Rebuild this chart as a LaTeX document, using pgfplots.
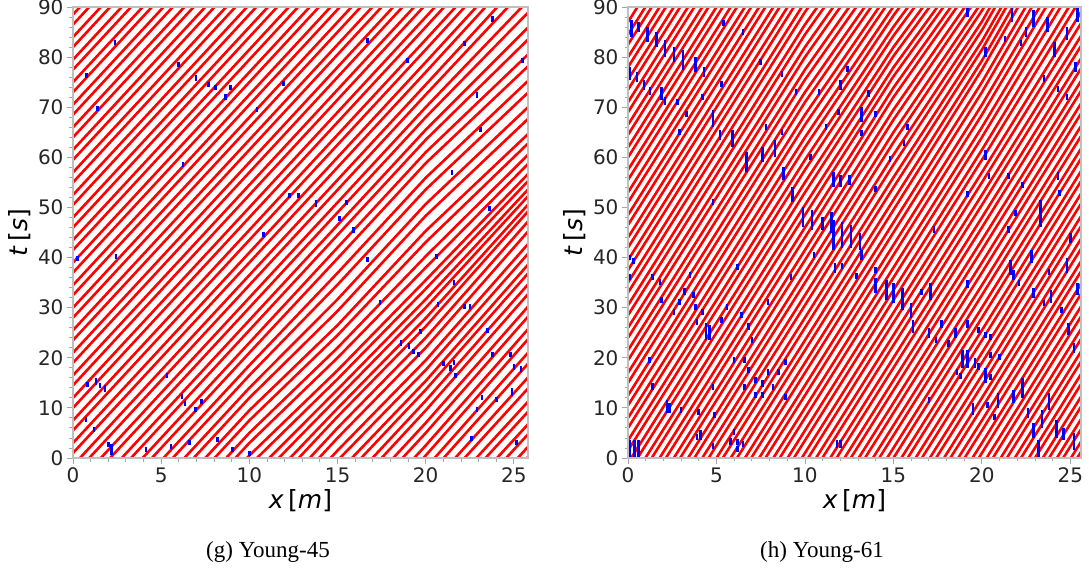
\documentclass[border=0pt]{standalone}
\usepackage{fontspec}
\setmainfont{DejaVu Sans}
\newfontfamily\capfont{Liberation Serif}
\usepackage{pgfplots}
\usepackage{pgfplotstable}
\pgfplotsset{compat=1.18}

% Left panel (Young-45) trajectories: x [m], t [s]; one trajectory per line, separated by nan
\pgfplotstableread[row sep=\\]{x y\\
0 88.5\\5 107.5\\nan nan\\
0 86.5\\5 105.5\\nan nan\\
0 84\\5 103\\nan nan\\
0 82\\5 101\\nan nan\\
0 79.5\\5 98.5\\nan nan\\
0 77.5\\5 96.5\\nan nan\\
0 75\\5 94\\nan nan\\
0 73\\5 92\\nan nan\\
0 70.5\\5 89.5\\10 108.5\\nan nan\\
0 68.5\\5 87.5\\10 106.5\\nan nan\\
0 66\\5 85\\10 104\\nan nan\\
0 64\\5 83\\10 102\\nan nan\\
0 61.5\\5 80.5\\10 99.5\\nan nan\\
0 59.5\\5 78.5\\10 97.5\\nan nan\\
0 57\\5 76\\10 95\\nan nan\\
0 55\\5 74\\10 93\\nan nan\\
0 52.5\\5 71.5\\10 90.5\\nan nan\\
0 50.5\\5 69.5\\10 88.5\\15 107.5\\nan nan\\
0 48\\5 67\\10 86\\15 105\\nan nan\\
0 46\\5 65\\10 84\\15 103\\nan nan\\
0 43.5\\5 62.5\\10 81.5\\15 100.5\\nan nan\\
0 41.5\\5 60.5\\10 79.5\\15 98.5\\nan nan\\
0 39\\5 58\\10 77\\15 96\\nan nan\\
0 37\\5 56\\10 75\\15 94\\nan nan\\
0 34.5\\5 53.5\\10 72.5\\15 91.5\\nan nan\\
0 32.5\\5 51.5\\10 70.5\\15 89.5\\20 108.5\\nan nan\\
0 30\\5 49\\10 68\\15 87\\20 106\\nan nan\\
0 28\\5 47\\10 66\\15 85\\20 104\\nan nan\\
0 25.5\\5 44.5\\10 63.5\\15 82.5\\20 101.5\\nan nan\\
0 23.5\\5 42.5\\10 61.5\\15 80.5\\20 99.5\\nan nan\\
0 21\\5 40\\10 59\\15 78\\20 97\\nan nan\\
0 19\\5 38\\10 57\\15 76\\20 95\\nan nan\\
0 16.5\\5 35.5\\10 54.5\\15 73.5\\20 92.5\\nan nan\\
0 14.5\\5 33.5\\10 52.5\\15 71.5\\20 90.5\\nan nan\\
0 12\\5 31\\10 50\\15 69\\20 88\\26 111\\nan nan\\
0 10\\5 29\\10 48\\15 67\\20 86\\26 109\\nan nan\\
0 7.5\\5 26.5\\10 45.5\\15 64.5\\20 83.5\\26 106.5\\nan nan\\
0 5.5\\5 24.5\\10 43.5\\15 62.5\\20 81.5\\26 104.5\\nan nan\\
0 3\\5 22\\10 41\\15 60\\20 79\\26 102\\nan nan\\
0 1\\5 20\\10 39\\15 58\\20 77\\26 100\\nan nan\\
0 -1.5\\5 17.5\\10 36.5\\15 55.5\\20 74.5\\26 97.4\\nan nan\\
0 -3.5\\5 15.5\\10 34.5\\15 53.5\\20 72.5\\26 95\\nan nan\\
0 -6\\5 13\\10 32\\15 51\\20 70\\26 92\\nan nan\\
0 -8\\5 11\\10 30\\15 49\\20 68\\26 89.6\\nan nan\\
0 -10.5\\5 8.5\\10 27.5\\15 46.5\\20 65.5\\26 86.6\\nan nan\\
0 -12.5\\5 6.5\\10 25.5\\15 44.5\\20 63.5\\26 84.2\\nan nan\\
0 -15\\5 4\\10 23\\15 42\\20 61\\26 81.2\\nan nan\\
0 -17\\5 2\\10 21\\15 39.83\\20 58.83\\26 78.83\\nan nan\\
0 -19.5\\5 -0.5\\10 18.5\\15 36.92\\20 55.92\\26 75.92\\nan nan\\
0 -21.5\\5 -2.5\\10 16.5\\15 34.58\\20 53.58\\26 73.58\\nan nan\\
0 -24\\5 -5\\10 14\\15 31.67\\20 50.67\\26 70.67\\nan nan\\
0 -26\\5 -7\\10 12\\15 29.33\\20 48.33\\26 68.33\\nan nan\\
0 -28.5\\5 -9.5\\10 9.5\\15 26.5\\20 45.31\\26 65.31\\nan nan\\
0 -30.5\\5 -11.5\\10 7.5\\15 24.5\\20 43.06\\26 63.45\\nan nan\\
0 -33\\5 -14\\10 5\\15 22\\20 40.25\\26 61.2\\nan nan\\
0 -35\\5 -16\\10 3\\15 20\\20 38\\26 59.4\\nan nan\\
0 -37.5\\5 -18.5\\10 0.5\\15 17.5\\20 35.5\\26 57.4\\nan nan\\
5 -20.5\\10 -1.5\\15 15.75\\20 33.75\\26 56\\nan nan\\
5 -23\\10 -4\\15 13.67\\20 31.67\\26 54.34\\nan nan\\
5 -25\\10 -6\\15 12\\20 30\\26 53\\nan nan\\
5 -27.5\\10 -8.5\\15 9.92\\20 27.92\\26 51.34\\nan nan\\
5 -29.5\\10 -10.5\\15 8.25\\20 26.25\\26 50\\nan nan\\
10 -13\\15 6\\20 24\\26 48\\nan nan\\
10 -15\\15 4\\20 22\\26 46\\nan nan\\
10 -17.5\\15 1.5\\20 19.5\\26 43.5\\nan nan\\
10 -19.5\\15 -0.5\\20 17.56\\26 41.56\\nan nan\\
15 -3\\20 15.38\\26 39.38\\nan nan\\
15 -5\\20 13.63\\26 37.63\\nan nan\\
15 -7.5\\20 11.44\\26 35.44\\nan nan\\
15 -9.5\\20 9.5\\26 33.5\\nan nan\\
15 -12\\20 7\\26 31\\nan nan\\
15 -14\\20 5\\26 29\\nan nan\\
15 -16.5\\20 2.5\\26 26.5\\nan nan\\
15 -18.5\\20 0.5\\26 24.5\\nan nan\\
20 -2\\26 21.8\\nan nan\\
20 -4\\26 19.6\\nan nan\\
20 -6.5\\26 16.85\\nan nan\\
20 -8.5\\26 14.65\\nan nan\\
20 -11\\26 12\\nan nan\\
20 -13\\26 10\\nan nan\\
20 -15.5\\26 7.5\\nan nan\\
20 -17.5\\26 5.5\\nan nan\\
20 -20\\26 3\\nan nan\\
20 -22\\26 1\\
}\RL

% Right panel (Young-61) trajectories
\pgfplotstableread[row sep=\\]{x y\\
0 87\\5 115\\nan nan\\
0 84.5\\5 112.5\\nan nan\\
0 82.5\\5 110.5\\nan nan\\
0 80\\5 108\\nan nan\\
0 78\\5 106\\nan nan\\
0 75.5\\5 103.5\\nan nan\\
0 73.5\\5 101.5\\nan nan\\
0 71\\5 99\\nan nan\\
0 69\\5 97\\nan nan\\
0 66.5\\5 94.5\\nan nan\\
0 64.5\\5 92.5\\nan nan\\
0 62\\5 90\\nan nan\\
0 60\\5 88\\10 116\\nan nan\\
0 57.5\\5 85.5\\10 113.5\\nan nan\\
0 55.5\\5 83.5\\10 111.5\\nan nan\\
0 53\\5 81\\10 109\\nan nan\\
0 51\\5 79\\10 107\\nan nan\\
0 48.5\\5 76.5\\10 104.5\\nan nan\\
0 46.5\\5 74.5\\10 102.5\\nan nan\\
0 44\\5 72\\10 100\\nan nan\\
0 42\\5 70\\10 98\\nan nan\\
0 39.5\\5 67.5\\10 95.5\\nan nan\\
0 37.5\\5 65.5\\10 93.5\\nan nan\\
0 35\\5 63\\10 91\\nan nan\\
0 33\\5 61\\10 89\\15 114\\nan nan\\
0 30.5\\5 58.5\\10 86.5\\15 111.5\\nan nan\\
0 28.5\\5 56.5\\10 84.5\\15 109.5\\nan nan\\
0 26\\5 54\\10 82\\15 107\\nan nan\\
0 24\\5 52\\10 80\\15 105\\nan nan\\
0 21.5\\5 49.5\\10 77.5\\15 102.5\\nan nan\\
0 19.5\\5 47.5\\10 75.5\\15 100.5\\nan nan\\
0 17\\5 45\\10 73\\15 98.2\\nan nan\\
0 15\\5 43\\10 71\\15 96.4\\nan nan\\
0 12.5\\5 40.5\\10 68.5\\15 94.15\\nan nan\\
0 10.5\\5 38.5\\10 66.5\\15 92.35\\nan nan\\
0 8\\5 36\\10 64\\15 90.1\\20 114.1\\nan nan\\
0 6\\5 34\\10 62\\15 88.3\\20 112.3\\nan nan\\
0 3.5\\5 31.5\\10 59.5\\15 86.05\\20 110.05\\nan nan\\
0 1.5\\5 29.5\\10 57.5\\15 84.25\\20 108.25\\nan nan\\
0 -1\\5 27\\10 55\\15 82\\20 106\\nan nan\\
0 -3\\5 25\\10 53\\15 80.2\\20 104.2\\nan nan\\
0 -5.5\\5 22.5\\10 50.5\\15 77.95\\20 102.23\\nan nan\\
0 -7.5\\5 20.5\\10 48.5\\15 76.15\\20 100.67\\nan nan\\
0 -10\\5 18\\10 46\\15 73.9\\20 98.72\\nan nan\\
0 -12\\5 16\\10 44\\15 72\\20 97.07\\nan nan\\
0 -14.5\\5 13.5\\10 41.5\\15 69.5\\20 94.9\\nan nan\\
0 -16.5\\5 11.5\\10 39.5\\15 67.5\\20 93.17\\nan nan\\
0 -19\\5 9\\10 37\\15 65\\20 91\\26 128\\nan nan\\
0 -21\\5 7\\10 35\\15 63\\20 89.27\\26 126.27\\nan nan\\
0 -23.5\\5 4.5\\10 32.5\\15 60.5\\20 87.1\\26 124.1\\nan nan\\
0 -25.5\\5 2.5\\10 30.5\\15 58.5\\20 85.37\\26 122.37\\nan nan\\
0 -28\\5 0\\10 28\\15 56\\20 83.2\\26 120.2\\nan nan\\
0 -30\\5 -2\\10 26\\15 54\\20 81.47\\26 118.47\\nan nan\\
0 -32.5\\5 -4.5\\10 23.5\\15 51.5\\20 79.3\\26 116.22\\nan nan\\
0 -34.5\\5 -6.5\\10 21.5\\15 49.5\\20 77.5\\26 114.2\\nan nan\\
0 -37\\5 -9\\10 19\\15 47\\20 75\\26 111.4\\nan nan\\
0 -39\\5 -11\\10 17\\15 45\\20 73\\26 109.16\\nan nan\\
0 -41.5\\5 -13.5\\10 14.5\\15 42.5\\20 70.5\\26 106.36\\nan nan\\
0 -43.5\\5 -15.5\\10 12.5\\15 40.5\\20 68.5\\26 104.12\\nan nan\\
0 -46\\5 -18\\10 10\\15 38\\20 66\\26 101.32\\nan nan\\
0 -48\\5 -20\\10 8\\15 36\\20 64\\26 99.08\\nan nan\\
0 -50.5\\5 -22.5\\10 5.5\\15 33.5\\20 61.5\\26 96.28\\nan nan\\
0 -52.5\\5 -24.5\\10 3.5\\15 31.5\\20 59.5\\26 94.04\\nan nan\\
0 -55\\5 -27\\10 1\\15 29\\20 57\\26 91.24\\nan nan\\
5 -29\\10 -1\\15 27\\20 55\\26 89\\nan nan\\
5 -31.5\\10 -3.5\\15 24.5\\20 52.5\\26 86.5\\nan nan\\
5 -33.5\\10 -5.5\\15 22.5\\20 50.5\\26 84.5\\nan nan\\
5 -36\\10 -8\\15 20\\20 48\\26 82\\nan nan\\
5 -38\\10 -10\\15 18\\20 46\\26 80\\nan nan\\
5 -40.5\\10 -12.5\\15 15.5\\20 43.5\\26 77.5\\nan nan\\
5 -42.5\\10 -14.5\\15 13.5\\20 41.5\\26 75.5\\nan nan\\
5 -45\\10 -17\\15 11\\20 39\\26 73\\nan nan\\
5 -47\\10 -19\\15 9\\20 37\\26 71\\nan nan\\
5 -49.5\\10 -21.5\\15 6.5\\20 34.5\\26 68.5\\nan nan\\
5 -51.5\\10 -23.5\\15 4.5\\20 32.5\\26 66.5\\nan nan\\
5 -54\\10 -26\\15 2\\20 30\\26 64\\nan nan\\
10 -28\\15 0\\20 28\\26 62\\nan nan\\
10 -30.5\\15 -2.5\\20 25.5\\26 59.5\\nan nan\\
10 -32.5\\15 -4.5\\20 23.5\\26 57.5\\nan nan\\
10 -35\\15 -7\\20 21\\26 55\\nan nan\\
10 -37\\15 -9\\20 19\\26 53\\nan nan\\
10 -39.5\\15 -11.5\\20 16.5\\26 50.5\\nan nan\\
10 -41.5\\15 -13.5\\20 14.5\\26 48.5\\nan nan\\
10 -44\\15 -16\\20 12\\26 46\\nan nan\\
10 -46\\15 -18\\20 10\\26 44\\nan nan\\
10 -48.5\\15 -20.5\\20 7.5\\26 41.5\\nan nan\\
10 -50.5\\15 -22.5\\20 5.5\\26 39.5\\nan nan\\
10 -53\\15 -25\\20 3\\26 37\\nan nan\\
10 -55\\15 -27\\20 1\\26 35\\nan nan\\
15 -29.5\\20 -1.5\\26 32.5\\nan nan\\
15 -31.5\\20 -3.5\\26 30.5\\nan nan\\
15 -34\\20 -6\\26 28\\nan nan\\
15 -36\\20 -8\\26 26\\nan nan\\
15 -38.5\\20 -10.5\\26 23.5\\nan nan\\
15 -40.5\\20 -12.5\\26 21.5\\nan nan\\
15 -43\\20 -15\\26 19\\nan nan\\
15 -45\\20 -17\\26 17\\nan nan\\
15 -47.5\\20 -19.5\\26 14.5\\nan nan\\
15 -49.5\\20 -21.5\\26 12.5\\nan nan\\
15 -52\\20 -24\\26 10\\nan nan\\
15 -54\\20 -26\\26 8\\nan nan\\
15 -56.5\\20 -28.5\\26 5.5\\nan nan\\
15 -58.5\\20 -30.5\\26 3.5\\nan nan\\
15 -61\\20 -33\\26 1\\
}\RR

% blue (stopped) segments, left panel
\pgfplotstableread[row sep=\\]{x y\\
2.39 82.5\\2.39 83.5\\nan nan\\ 5.98 78.1\\5.98 79.1\\nan nan\\ 6.97 75.3\\6.97 76.5\\nan nan\\
7.69 74\\7.69 75\\nan nan\\ 8.07 73.5\\8.07 74.5\\nan nan\\ 8.65 71.5\\8.65 72.7\\nan nan\\
8.92 73.5\\8.92 74.5\\nan nan\\ 10.44 69\\10.44 70\\nan nan\\ 11.95 74.2\\11.95 75.2\\nan nan\\
1.40 69.3\\1.40 70.3\\nan nan\\ 6.23 58\\6.23 59\\nan nan\\ 10.81 44.1\\10.81 45.1\\nan nan\\
12.26 51.8\\12.26 52.8\\nan nan\\ 12.8 51.8\\12.8 52.8\\nan nan\\ 0.78 75.9\\0.78 76.9\\nan nan\\
16.69 82.8\\16.69 83.8\\nan nan\\ 23.8 87\\23.8 88.2\\nan nan\\ 22.2 82.3\\22.2 83.3\\nan nan\\
18.96 78.8\\18.96 79.8\\nan nan\\ 25.5 78.9\\25.5 79.9\\nan nan\\ 22.9 71.8\\22.9 73\\nan nan\\
23.1 65\\23.1 66\\nan nan\\ 21.5 56.5\\21.5 57.5\\nan nan\\ 23.6 49.2\\23.6 50.2\\nan nan\\
13.77 50\\13.77 51.4\\nan nan\\ 15.5 50.5\\15.5 51.5\\nan nan\\ 15.9 45\\15.9 46\\nan nan\\
15.1 47.3\\15.1 48.3\\nan nan\\ 0.25 39.4\\0.25 40.4\\nan nan\\ 2.44 39.8\\2.44 40.8\\nan nan\\
1.31 14.5\\1.31 16\\nan nan\\ 1.53 13.9\\1.53 14.9\\nan nan\\ 1.82 13.2\\1.82 14.6\\nan nan\\
0.81 14.1\\0.81 15.1\\nan nan\\ 0.74 7.2\\0.74 8.2\\nan nan\\ 1.19 5.1\\1.19 6.1\\nan nan\\
2.0 2.2\\2.0 3.2\\nan nan\\ 2.2 0.5\\2.2 2.8\\nan nan\\ 4.13 1.1\\4.13 2.1\\nan nan\\
5.32 15.9\\5.32 16.9\\nan nan\\ 6.18 11.7\\6.18 12.7\\nan nan\\ 6.36 10.4\\6.36 11.4\\nan nan\\
7.27 10.7\\7.27 11.7\\nan nan\\ 6.93 9.1\\6.93 10.1\\nan nan\\ 6.59 2.6\\6.59 3.6\\nan nan\\
5.55 1.8\\5.55 2.8\\nan nan\\ 8.2 3.2\\8.2 4.2\\nan nan\\ 9.05 1.1\\9.05 2.1\\nan nan\\
10.0 0.4\\10.0 1.4\\nan nan\\ 20.6 39.8\\20.6 40.8\\nan nan\\ 16.7 39.2\\16.7 40.2\\nan nan\\
21.6 34.6\\21.6 35.6\\nan nan\\ 17.4 30.6\\17.4 31.6\\nan nan\\ 22.2 29.8\\22.2 30.8\\nan nan\\
22.5 29.8\\22.5 30.8\\nan nan\\ 20.7 30.2\\20.7 31.2\\nan nan\\ 23.5 24.9\\23.5 25.9\\nan nan\\
19.7 24.8\\19.7 25.8\\nan nan\\ 18.6 22.3\\18.6 23.5\\nan nan\\ 19.05 21.8\\19.05 23\\nan nan\\
19.3 20.7\\19.3 21.7\\nan nan\\ 19.6 20.1\\19.6 21.1\\nan nan\\ 21.0 18.4\\21.0 19.4\\nan nan\\
21.4 17.3\\21.4 18.5\\nan nan\\ 21.6 18.5\\21.6 19.5\\nan nan\\ 21.7 15.9\\21.7 16.9\\nan nan\\
23.8 20.2\\23.8 21.2\\nan nan\\ 24.8 20.1\\24.8 21.1\\nan nan\\ 25.0 17.6\\25.0 18.8\\nan nan\\
25.4 17.1\\25.4 18.3\\nan nan\\ 24.9 12.4\\24.9 14\\nan nan\\ 23.2 11.5\\23.2 12.5\\nan nan\\
24.0 11.2\\24.0 12.2\\nan nan\\ 22.9 9.1\\22.9 10.1\\nan nan\\ 22.6 3.3\\22.6 4.3\\nan nan\\
25.15 2.6\\25.15 3.6\\
}\BL

% blue (stopped) segments, right panel
\pgfplotstableread[row sep=\\]{x y\\
0.2 84\\0.2 87.5\\nan nan\\ 0.6 85\\0.6 87\\nan nan\\ 1.1 83\\1.1 86\\nan nan\\ 1.6 82\\1.6 85\\nan nan\\
2.1 80\\2.1 83.5\\nan nan\\ 2.6 79\\2.6 82\\nan nan\\ 3.1 77.5\\3.1 81.5\\nan nan\\ 3.8 77\\3.8 80\\nan nan\\
4.3 76\\4.3 78\\nan nan\\ 0.1 75.5\\0.1 78\\nan nan\\ 0.5 75\\0.5 77\\nan nan\\ 0.9 73.5\\0.9 75.5\\nan nan\\
1.25 72.5\\1.25 74\\nan nan\\ 1.9 71.5\\1.9 74\\nan nan\\ 2.1 70.5\\2.1 72\\nan nan\\ 2.8 70.5\\2.8 71.7\\nan nan\\
4.8 66\\4.8 69.5\\nan nan\\ 5.2 63.5\\5.2 65.5\\nan nan\\ 5.9 62\\5.9 65.5\\nan nan\\ 6.7 57\\6.7 61\\nan nan\\
7.6 59\\7.6 62\\nan nan\\ 8.3 60\\8.3 63.5\\nan nan\\ 8.8 55.5\\8.8 58\\nan nan\\ 9.3 51\\9.3 54\\nan nan\\
9.9 46\\9.9 50\\nan nan\\ 10.4 45.5\\10.4 49.5\\nan nan\\ 11.0 45.5\\11.0 48\\nan nan\\ 11.5 45\\11.5 49\\nan nan\\
11.6 54\\11.6 57\\nan nan\\ 5.4 86.3\\5.4 87.5\\nan nan\\ 6.5 84.5\\6.5 85.7\\nan nan\\ 7.5 78.5\\7.5 79.7\\nan nan\\
8.7 76\\8.7 77.2\\nan nan\\ 9.5 72.5\\9.5 73.7\\nan nan\\ 10.8 72.5\\10.8 73.7\\nan nan\\ 11.9 68.5\\11.9 69.7\\nan nan\\
11.2 65.5\\11.2 66.7\\nan nan\\ 7.8 65.5\\7.8 66.7\\nan nan\\ 8.7 64.5\\8.7 65.7\\nan nan\\ 10.3 59.5\\10.3 60.7\\nan nan\\
5.3 74\\5.3 75.2\\nan nan\\ 4.2 71.5\\4.2 72.7\\nan nan\\ 3.3 68\\3.3 69.2\\nan nan\\ 2.9 64.5\\2.9 65.7\\nan nan\\
4.8 50.5\\4.8 51.7\\nan nan\\ 19.2 88\\19.2 90\\nan nan\\ 20.2 80\\20.2 82\\nan nan\\ 21.3 83\\21.3 84.2\\nan nan\\
21.7 87\\21.7 90\\nan nan\\ 22.9 86\\22.9 89.5\\nan nan\\ 23.7 85\\23.7 88\\nan nan\\ 24.1 80\\24.1 83\\nan nan\\
24.8 83.5\\24.8 86\\nan nan\\ 25.4 87\\25.4 90\\nan nan\\ 25.3 77\\25.3 79\\nan nan\\ 23.5 75\\23.5 76.5\\nan nan\\
24.3 73\\24.3 74.2\\nan nan\\ 22.5 84\\22.5 86\\nan nan\\ 22.2 82.3\\22.2 83.5\\nan nan\\ 24.8 71.5\\24.8 72.7\\nan nan\\
12.0 73.5\\12.0 75.5\\nan nan\\ 13.6 72\\13.6 73.5\\nan nan\\ 12.4 77\\12.4 78.2\\nan nan\\ 13.2 67\\13.2 70\\nan nan\\
14.0 68\\14.0 69.2\\nan nan\\ 15.8 65.5\\15.8 66.7\\nan nan\\ 15.6 62.3\\15.6 63.5\\nan nan\\ 13.2 64.3\\13.2 65.5\\nan nan\\
14.8 59\\14.8 60.2\\nan nan\\ 14.0 53\\14.0 54.2\\nan nan\\ 12.0 54\\12.0 56.5\\nan nan\\ 12.5 54.5\\12.5 56.5\\nan nan\\
11.6 41.5\\11.6 47.5\\nan nan\\ 12.1 42\\12.1 47\\nan nan\\ 12.6 42\\12.6 46.5\\nan nan\\ 13.1 41.5\\13.1 45\\nan nan\\
20.2 59.5\\20.2 61.5\\nan nan\\ 20.4 55.7\\20.4 56.9\\nan nan\\ 21.5 55.7\\21.5 56.9\\nan nan\\ 21.9 48.3\\21.9 49.5\\nan nan\\
23.3 46\\23.3 51.5\\nan nan\\ 24.3 55.5\\24.3 57\\nan nan\\ 24.4 52.3\\24.4 53.5\\nan nan\\ 25.0 43\\25.0 45\\nan nan\\
22.3 53.8\\22.3 55\\nan nan\\ 19.2 52\\19.2 53.2\\nan nan\\ 17.3 45\\17.3 46.2\\nan nan\\ 21.5 45\\21.5 46.2\\nan nan\\
0.1 39.5\\0.1 40.5\\nan nan\\ 0.3 38.8\\0.3 40\\nan nan\\ 0.1 35.5\\0.1 36.7\\nan nan\\ 1.4 35.5\\1.4 36.7\\nan nan\\
1.8 34.5\\1.8 35.7\\nan nan\\ 3.5 36\\3.5 37.2\\nan nan\\ 3.2 32.5\\3.2 34\\nan nan\\ 3.7 32\\3.7 33.2\\nan nan\\
1.9 31\\1.9 32.2\\nan nan\\ 2.9 30.5\\2.9 31.7\\nan nan\\ 2.6 28.5\\2.6 29.7\\nan nan\\ 3.8 29.5\\3.8 30.7\\nan nan\\
4.4 23.5\\4.4 27\\nan nan\\ 4.6 23.5\\4.6 26.5\\nan nan\\ 3.9 26.5\\3.9 27.7\\nan nan\\ 5.3 27\\5.3 28.2\\nan nan\\
5.6 29.5\\5.6 30.7\\nan nan\\ 6.4 28\\6.4 29.2\\nan nan\\ 6.8 25.5\\6.8 27\\nan nan\\ 7.0 23\\7.0 24.2\\nan nan\\
6.0 19\\6.0 20.2\\nan nan\\ 6.6 19\\6.6 20.2\\nan nan\\ 6.8 17\\6.8 18.2\\nan nan\\ 7.2 15\\7.2 16.2\\nan nan\\
7.6 14.2\\7.6 15.5\\nan nan\\ 7.9 16.5\\7.9 17.7\\nan nan\\ 8.2 13.5\\8.2 14.7\\nan nan\\ 8.9 18.5\\8.9 19.7\\nan nan\\
8.5 16.5\\8.5 17.7\\nan nan\\ 7.2 12\\7.2 13.2\\nan nan\\ 7.6 12\\7.6 13.2\\nan nan\\ 6.6 13.5\\6.6 14.7\\nan nan\\
8.9 11.5\\8.9 12.7\\nan nan\\ 7.9 30.5\\7.9 31.7\\nan nan\\ 9.2 35.5\\9.2 36.7\\nan nan\\ 6.2 37.5\\6.2 38.7\\nan nan\\
4.2 28.5\\4.2 29.7\\nan nan\\ 1.4 13.5\\1.4 15\\nan nan\\ 2.2 9\\2.2 11.5\\nan nan\\ 2.35 9\\2.35 11\\nan nan\\
3.0 9\\3.0 10.2\\nan nan\\ 1.2 19\\1.2 20.2\\nan nan\\ 4.0 8.5\\4.0 9.7\\nan nan\\ 4.8 13.5\\4.8 14.7\\nan nan\\
4.1 3.5\\4.1 5.5\\nan nan\\ 3.9 3.5\\3.9 4.7\\nan nan\\ 4.9 8\\4.9 9.2\\nan nan\\ 4.8 1.8\\4.8 3\\nan nan\\
5.8 2.5\\5.8 4\\nan nan\\ 6.0 4.5\\6.0 5.7\\nan nan\\ 6.2 2.5\\6.2 3.7\\nan nan\\ 6.2 1.2\\6.2 2.4\\nan nan\\
6.5 2.2\\6.5 3.4\\nan nan\\ 0.1 0\\0.1 3.5\\nan nan\\ 0.35 0\\0.35 3.5\\nan nan\\ 0.6 0\\0.6 3.5\\nan nan\\
11.8 2\\11.8 3.5\\nan nan\\ 11.7 37\\11.7 39\\nan nan\\ 10.5 40\\10.5 41.2\\nan nan\\ 13.2 39.5\\13.2 41.5\\nan nan\\
14.0 37\\14.0 38.2\\nan nan\\ 12.9 35.8\\12.9 37\\nan nan\\ 12.1 37.7\\12.1 38.9\\nan nan\\ 14.0 33\\14.0 36\\nan nan\\
14.6 31.5\\14.6 35.5\\nan nan\\ 15.0 31\\15.0 35\\nan nan\\ 15.5 29.5\\15.5 34\\nan nan\\ 16.0 28\\16.0 31\\nan nan\\
16.1 25\\16.1 27.5\\nan nan\\ 16.6 32.5\\16.6 33.7\\nan nan\\ 17.1 31.5\\17.1 35\\nan nan\\ 17.0 24\\17.0 26\\nan nan\\
17.4 23\\17.4 24.2\\nan nan\\ 17.7 26\\17.7 27.5\\nan nan\\ 18.1 22.2\\18.1 23.5\\nan nan\\ 18.5 24\\18.5 26\\nan nan\\
18.9 18\\18.9 21.5\\nan nan\\ 19.2 18\\19.2 21.5\\nan nan\\ 19.6 18\\19.6 20\\nan nan\\ 18.6 16.5\\18.6 17.7\\nan nan\\
18.8 15.8\\18.8 17\\nan nan\\ 19.8 17.5\\19.8 19\\nan nan\\ 20.2 15\\20.2 18\\nan nan\\ 20.5 15.5\\20.5 16.7\\nan nan\\
20.9 10\\20.9 13\\nan nan\\ 20.3 10\\20.3 11.2\\nan nan\\ 20.7 7.5\\20.7 8.7\\nan nan\\ 20.5 20\\20.5 21.2\\nan nan\\
21.0 19.5\\21.0 20.7\\nan nan\\ 19.2 34\\19.2 35.5\\nan nan\\ 19.2 26\\19.2 27.5\\nan nan\\ 19.8 25\\19.8 26.2\\nan nan\\
20.2 24\\20.2 25.2\\nan nan\\ 20.5 23.5\\20.5 24.7\\nan nan\\ 21.6 36.5\\21.6 39.5\\nan nan\\ 21.8 35.5\\21.8 37.5\\nan nan\\
22.1 34.3\\22.1 35.5\\nan nan\\ 22.9 32\\22.9 34\\nan nan\\ 23.5 30.3\\23.5 31.5\\nan nan\\ 23.9 31\\23.9 33.5\\nan nan\\
24.5 29\\24.5 30.2\\nan nan\\ 24.9 24.5\\24.9 27\\nan nan\\ 25.2 21\\25.2 23\\nan nan\\ 25.4 32.5\\25.4 35\\nan nan\\
21.8 11\\21.8 13.5\\nan nan\\ 22.3 12\\22.3 16\\nan nan\\ 22.6 8\\22.6 10\\nan nan\\ 22.9 4\\22.9 7\\nan nan\\
23.2 0\\23.2 3.5\\nan nan\\ 23.4 6\\23.4 9.5\\nan nan\\ 23.8 9.5\\23.8 13\\nan nan\\ 24.2 4\\24.2 7.5\\nan nan\\
24.6 3.5\\24.6 6\\nan nan\\ 25.2 1.5\\25.2 5\\nan nan\\ 22.8 39\\22.8 41.5\\nan nan\\ 23.8 36.5\\23.8 37.7\\nan nan\\
24.8 37\\24.8 40\\nan nan\\ 19.5 8.5\\19.5 11\\nan nan\\ 17.0 11\\17.0 12.2\\nan nan\\ 12.0 2\\12.0 3.5\\
}\BR

\pgfplotsset{traj/.style={
  scale only axis, xmin=0, ymin=0, ymax=90,
  xtick={0,5,10,15,20,25}, ytick={0,10,...,90},
  minor x tick num=4, minor y tick num=4,
  tick align=outside, tick pos=left,
  major tick length=6pt, minor tick length=3.5pt,
  tick style={draw=gray!70, line width=0.9pt},
  axis line style={draw=gray!50, line width=1.3pt},
  ticklabel style={font=\fontsize{20}{24}\selectfont, text=black!85},
  /pgf/number format/assume math mode=true,
  xlabel={\textit{x}\,[\textit{m}]}, ylabel={\textit{t}\,[\textit{s}]},
  label style={font=\fontsize{25}{30}\selectfont},
  axis on top,
  traj line/.style={red, line width=2.6pt, line join=round, unbounded coords=jump},
  stop line/.style={blue, line width=2.6pt, unbounded coords=jump},
}}

\begin{document}
\begin{tikzpicture}
\useasboundingbox (0,0) rectangle (1089pt,574pt);
\begin{axis}[traj, at={(73pt,116pt)}, anchor=south west, width=455pt, height=451pt, xmax=25.8]
\addplot[traj line] table[x=x, y=y]{\RL};
\addplot[stop line] table[x=x, y=y]{\BL};
\end{axis}
\begin{axis}[traj, at={(628pt,116pt)}, anchor=south west, width=453pt, height=451pt, xmax=25.6]
\addplot[traj line] table[x=x, y=y]{\RR};
\addplot[stop line] table[x=x, y=y]{\BR};
\end{axis}
\node[font=\capfont\fontsize{23}{27}\selectfont, anchor=base] at (268pt,17pt) {(g) Young-45};
\node[font=\capfont\fontsize{23}{27}\selectfont, anchor=base] at (822pt,17pt) {(h) Young-61};
\end{tikzpicture}
\end{document}
